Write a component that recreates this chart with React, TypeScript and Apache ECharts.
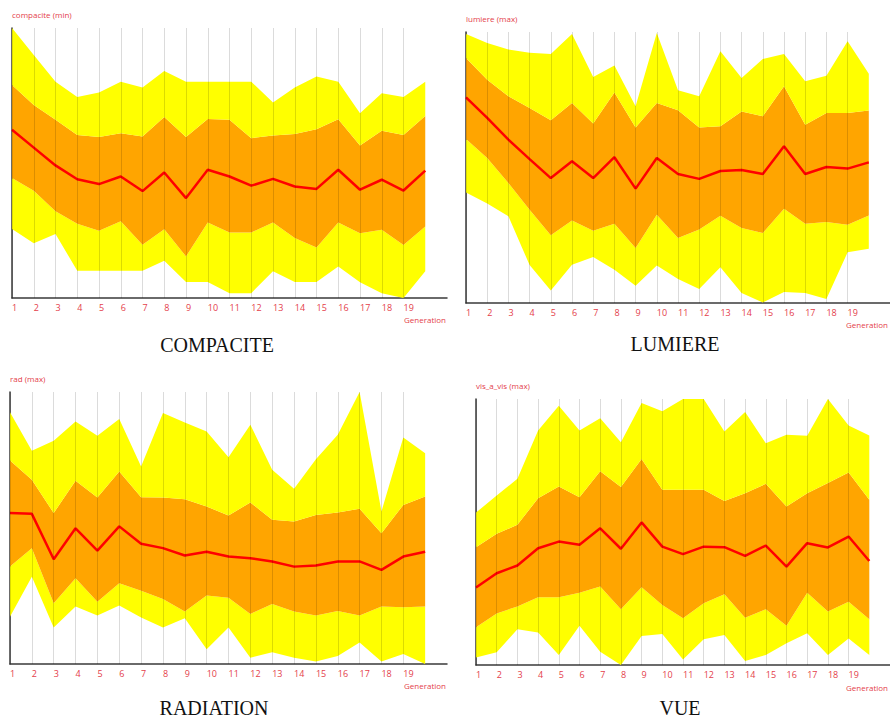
import React, { useEffect, useRef } from "react";
import * as echarts from "echarts";

// Generation tick labels (21 slots, 20 data points, labels shown 1..19)
const generations = Array.from({ length: 21 }, (_, i) => String(i + 1));

// COMPACITE — compacite (min)
const compaciteMax = [100, 90, 80.1, 74.4, 76.1, 80.1, 78, 84.1, 80.1, 80.1, 80.1, 80.1, 72.4, 78, 82, 80.1, 68.4, 75.8, 74.4, 80.1];
const compaciteQ3 = [78.9, 71.5, 66, 60.4, 59.6, 61, 59.8, 67, 59.6, 66.3, 66, 59.2, 60.2, 60.7, 62.5, 66.2, 56.5, 61.9, 60.4, 67.4];
const compaciteMed = [62.3, 55.7, 49.1, 44, 42.2, 45, 39.6, 46.5, 37, 47.5, 45, 41.6, 44.1, 41.3, 40.4, 47.5, 40.1, 43.8, 39.8, 47.2];
const compaciteQ1 = [44.4, 39.7, 32.1, 27.5, 24.9, 28.4, 19.7, 25.5, 15.4, 28, 24.3, 24.3, 28, 22.2, 18.7, 28, 24, 25.3, 19.6, 26.5];
const compaciteMin = [25.6, 20.3, 23.7, 10.1, 10.1, 10.1, 10.1, 13.8, 5.9, 5.9, 1.8, 1.8, 9.9, 5.9, 5.9, 11.7, 5.8, 1.8, 0, 9.9];

// LUMIERE — lumiere (max)
const lumiereMax = [99.3, 95.9, 93.5, 92.3, 91.9, 99.3, 83.4, 87.6, 72.6, 99.6, 78.5, 76.3, 92.9, 83, 90, 91.9, 81.8, 83.9, 96.6, 84.6];
const lumiereQ3 = [90.4, 82.4, 76.3, 72, 67.4, 73.8, 66.2, 77.7, 64.8, 73.8, 71.1, 64.8, 65.2, 70.7, 68.9, 80, 65.8, 70.1, 70.1, 71];
const lumiereMed = [75.9, 68.3, 60.3, 53.1, 46.1, 52.3, 46.1, 53.8, 42.2, 53.5, 47.6, 45.8, 48.7, 49.1, 47.6, 57.8, 47.6, 50.2, 49.6, 51.9];
const lumiereQ1 = [60.5, 53.5, 44.3, 34.4, 25, 30.4, 26.7, 29.2, 20.3, 32.6, 24, 27.1, 32.2, 27.7, 25.8, 34.8, 29.2, 29.9, 28.9, 32.3];
const lumiereMin = [40.8, 36.7, 32, 14, 4.6, 14.1, 17, 12.3, 6.4, 13.8, 8.9, 5.2, 13.2, 3.7, 0.2, 4.1, 3.7, 1.5, 18.7, 20];

// RADIATION — rad (max)
const radMax = [92.6, 78.4, 82.1, 89.2, 83.9, 90.1, 72.6, 92.3, 88.8, 85.5, 76, 88, 71.4, 64.4, 75.3, 84.3, 100, 56.1, 83.3, 77.5];
const radQ3 = [74.8, 67.7, 55.5, 67.4, 61.2, 70.8, 61.3, 61.2, 60.6, 57.9, 54.6, 59.4, 53, 52.4, 54.8, 55.7, 57.1, 48.1, 58.5, 61.6];
const radMed = [55.5, 55.2, 38.5, 49.9, 41.7, 50.6, 44.2, 42.6, 39.9, 41.3, 39.5, 38.9, 37.7, 35.8, 36.2, 37.7, 37.7, 34.6, 39.5, 41.3];
const radQ1 = [35.8, 42.6, 22.3, 31.5, 22.9, 29.7, 26.9, 23.9, 19.3, 25.2, 24.4, 18.4, 22.1, 19.3, 17.8, 19.5, 17.8, 21.1, 20.9, 21.1];
const radMin = [17.4, 32.1, 13.4, 21.1, 17.8, 21.5, 17.1, 13.4, 16.8, 5.4, 13.4, 2.3, 4.3, 2.3, 0.9, 2.9, 7.9, 0.9, 3.7, 0];

// VUE — vis_a_vis (max)
const vueMax = [57.3, 63.7, 70, 88.2, 97.5, 88.2, 92.8, 83.7, 98.5, 95.4, 100, 100, 87.8, 95.1, 83.4, 86.6, 86.2, 100, 90, 86.3];
const vueQ3 = [44.3, 49.3, 52.7, 62.7, 67.1, 63.1, 72.8, 66.9, 77.4, 65.9, 65.9, 65.9, 61.7, 64.6, 68.1, 59.6, 64.6, 68.4, 72.4, 62.1];
const vueMed = [29.1, 34.5, 37.4, 43.9, 46.4, 45.2, 51.4, 43.7, 53.6, 44.5, 41.7, 44.5, 44.3, 41, 44.9, 37, 45.8, 44.2, 48.3, 39.1];
const vueQ1 = [14.2, 19.4, 22, 25.5, 25.5, 27.2, 29.5, 21, 29.2, 22.6, 17.6, 23.2, 26.6, 17.8, 21, 14.8, 27.2, 20.1, 23.8, 17.2];
const vueMin = [2.8, 4.8, 13.4, 12.2, 3.8, 14.8, 5, 0, 10.9, 11.7, 2.1, 9.7, 11.3, 1.5, 3.8, 8.2, 11.9, 3.8, 10, 3.8];

const RED_TEXT = "#e4404a";
const YELLOW = "#ffff00";
const ORANGE = "#ffa500";

type Panel = {
  axisName: string;
  caption: string;
  max: number[];
  q3: number[];
  med: number[];
  q1: number[];
  min: number[];
  grid: { left: number; top: number; width: number; height: number };
  captionPos: [number, number];
  genPos: [number, number];
  genAlign: "left" | "right";
};

const panels: Panel[] = [
  {
    axisName: "compacite (min)", caption: "COMPACITE",
    max: compaciteMax, q3: compaciteQ3, med: compaciteMed, q1: compaciteQ1, min: compaciteMin,
    grid: { left: 12, top: 28, width: 435, height: 270 },
    captionPos: [217, 345], genPos: [404, 319], genAlign: "left",
  },
  {
    axisName: "lumiere (max)", caption: "LUMIERE",
    max: lumiereMax, q3: lumiereQ3, med: lumiereMed, q1: lumiereQ1, min: lumiereMin,
    grid: { left: 466, top: 32, width: 434, height: 271 },
    captionPos: [675, 344], genPos: [888, 324], genAlign: "right",
  },
  {
    axisName: "rad (max)", caption: "RADIATION",
    max: radMax, q3: radQ3, med: radMed, q1: radQ1, min: radMin,
    grid: { left: 10, top: 392, width: 437, height: 272 },
    captionPos: [214, 708], genPos: [404, 685], genAlign: "left",
  },
  {
    axisName: "vis_a_vis (max)", caption: "VUE",
    max: vueMax, q3: vueQ3, med: vueMed, q1: vueQ1, min: vueMin,
    grid: { left: 476, top: 399, width: 426, height: 266 },
    captionPos: [680, 708], genPos: [888, 687], genAlign: "right",
  },
];

const diff = (a: number[], b: number[]) => a.map((v, i) => +(v - b[i]).toFixed(2));

export default function App() {
  const ref = useRef<HTMLDivElement>(null);

  useEffect(() => {
    if (!ref.current) return;
    const chart = echarts.init(ref.current, null, { renderer: "svg" });

    const grids: any[] = [];
    const xAxes: any[] = [];
    const yAxes: any[] = [];
    const series: any[] = [];
    const graphics: any[] = [];

    panels.forEach((p, k) => {
      grids.push({ ...p.grid, containLabel: false });
      xAxes.push({
        type: "category",
        gridIndex: k,
        data: generations,
        boundaryGap: false,
        axisLine: { lineStyle: { color: "#3a3a3a", width: 1.5 } },
        axisTick: { show: false },
        splitLine: { show: false },
        axisLabel: {
          interval: (idx: number) => idx < 19,
          align: "left",
          margin: 5,
          color: RED_TEXT,
          fontSize: 9,
          fontFamily: "Open Sans",
        },
      });
      yAxes.push({
        type: "value",
        gridIndex: k,
        min: 0,
        max: 100,
        name: p.axisName,
        nameLocation: "end",
        nameGap: 14,
        nameTextStyle: {
          color: RED_TEXT,
          fontSize: 8,
          fontFamily: "Open Sans",
          align: "left",
          verticalAlign: "middle",
        },
        axisLine: { show: true, lineStyle: { color: "#3a3a3a", width: 1.5 } },
        axisTick: { show: false },
        axisLabel: { show: false },
        splitLine: { show: false },
      });

      const stack = "band" + k;
      const common = {
        type: "line",
        xAxisIndex: k,
        yAxisIndex: k,
        stack,
        symbol: "none",
        lineStyle: { width: 0 },
        silent: true,
      };
      series.push({ ...common, name: p.caption + " base", data: p.min, areaStyle: { opacity: 0 } });
      series.push({ ...common, name: p.caption + " min-q1", data: diff(p.q1, p.min), areaStyle: { color: YELLOW, opacity: 1 } });
      series.push({ ...common, name: p.caption + " q1-q3", data: diff(p.q3, p.q1), areaStyle: { color: ORANGE, opacity: 1 } });
      series.push({
        ...common,
        name: p.caption + " q3-max",
        data: diff(p.max, p.q3),
        areaStyle: { color: YELLOW, opacity: 1 },
        markLine: {
          silent: true,
          symbol: "none",
          label: { show: false },
          lineStyle: { color: "rgba(0,0,0,0.14)", type: "solid", width: 1 },
          data: generations.slice(0, 19).map((g) => ({ xAxis: g })),
        },
      });
      series.push({
        type: "line",
        name: p.caption + " median",
        xAxisIndex: k,
        yAxisIndex: k,
        data: p.med,
        symbol: "none",
        lineStyle: { color: "#ff0000", width: 2.5 },
        silent: true,
      });

      graphics.push({
        type: "text",
        x: p.captionPos[0],
        y: p.captionPos[1],
        style: {
          text: p.caption,
          fill: "#111",
          font: '20px "Liberation Serif", "Times New Roman", serif',
          textAlign: "center",
          textVerticalAlign: "middle",
        },
      });
      graphics.push({
        type: "text",
        x: p.genPos[0],
        y: p.genPos[1],
        style: {
          text: "Generation",
          fill: RED_TEXT,
          font: '8px "Open Sans", sans-serif',
          textAlign: p.genAlign,
          textVerticalAlign: "middle",
        },
      });
    });

    chart.setOption({
      animation: false,
      backgroundColor: "#ffffff",
      grid: grids,
      xAxis: xAxes,
      yAxis: yAxes,
      series,
      graphic: graphics,
    });

    return () => chart.dispose();
  }, []);

  return (
    <div
      ref={ref}
      style={{ position: "absolute", left: 0, top: 0, width: 890, height: 718 }}
    />
  );
}
